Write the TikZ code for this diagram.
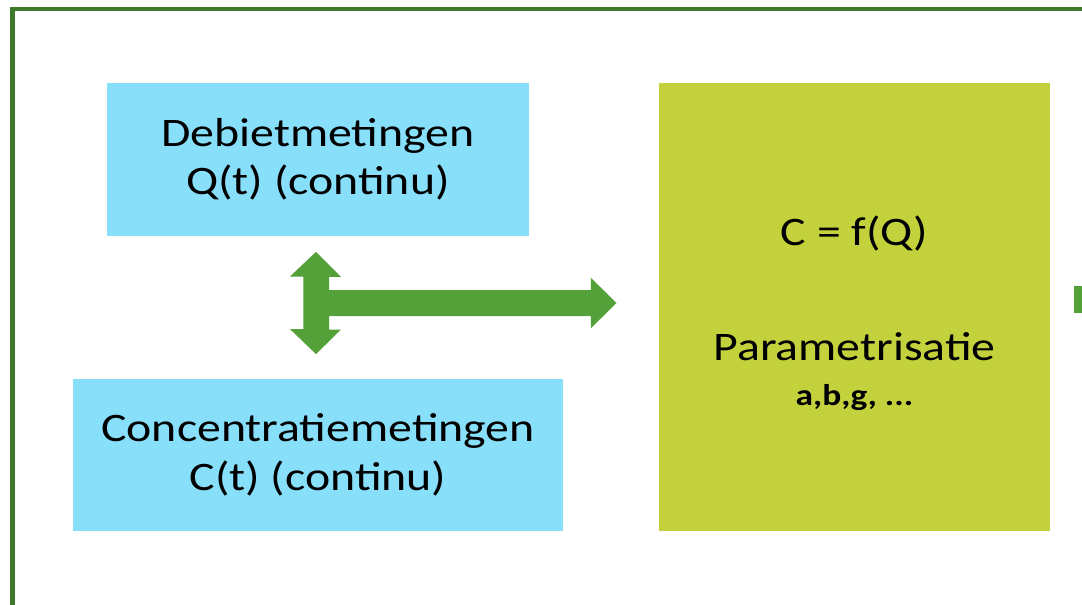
\documentclass[tikz,border=0pt]{standalone}
\usepackage{fontspec}
\setmainfont{Carlito}[FakeStretch=1.18]
\usetikzlibrary{calc}
\definecolor{boxblue}{RGB}{135,223,250}
\definecolor{boxlime}{RGB}{195,209,60}
\definecolor{arrowgreen}{RGB}{84,161,58}
\definecolor{framegreen}{RGB}{61,120,43}
\tikzset{
  bluebox/.style={rectangle, fill=boxblue, draw=none, align=center, inner sep=0pt,
    font=\fontsize{40.5}{48.4}\selectfont},
  limebox/.style={rectangle, fill=boxlime, draw=none, align=center, inner sep=0pt,
    font=\fontsize{40.5}{48.4}\selectfont},
  blockarrow/.style={fill=arrowgreen, draw=none},
  frameline/.style={draw=framegreen, line width=4.6pt}
}
\begin{document}
\begin{tikzpicture}[x=1pt, y=-1pt]
\useasboundingbox (0,0) rectangle (1082,605);
\clip (0,0) rectangle (1082,605);
\fill[white] (0,0) rectangle (1082,605);
% frame
\draw[frameline] (12.5,605+20) -- (12.5,8.8) -- (1082+20,8.8);
% boxes
\node[bluebox, minimum width=422pt, minimum height=153pt] (deb) at (318,159.5)
  {Debietmetingen\\Q(t) (continu)};
\node[bluebox, minimum width=490pt, minimum height=152pt] (conc) at (318,455)
  {Concentratiemetingen\\C(t) (continu)};
\node[limebox, minimum width=391pt, minimum height=448pt] (cfq) at (854.5,307)
  {\rule{0pt}{42pt}C = f(Q)\\[67pt]Parametrisatie\\[-3pt]{\bfseries\fontsize{30}{34}\selectfont a,b,g, ...}};
% arrow geometry
\coordinate (vtop) at ($(deb.south)+(-2,15.7)$);
\coordinate (vbot) at ($(conc.north)+(-2,-24.7)$);
\coordinate (htip) at ($(cfq.west)+(-42.3,-4)$);
\fill[blockarrow]
  (vtop) -- ++(25,25) -- ++(-12,0) -- ++(0,13.3)
  -- ($(htip)+(-25.7,-13)$) -- ++(0,-12.3) -- (htip) -- ++(-25.7,25.3) -- ++(0,-12.3)
  -- ($(vtop)+(13,64.3)$) -- ++(0,13.3) -- ++(12,0)
  -- (vbot) -- ++(-26,-25) -- ++(13.3,0) -- ++(0,-52.6) -- ++(-13.3,0) -- cycle;
% cropped arrow at right edge
\coordinate (rfrag) at (1074,286);
\fill[blockarrow] (rfrag) rectangle ++(30,26.7);
\end{tikzpicture}
\end{document}
